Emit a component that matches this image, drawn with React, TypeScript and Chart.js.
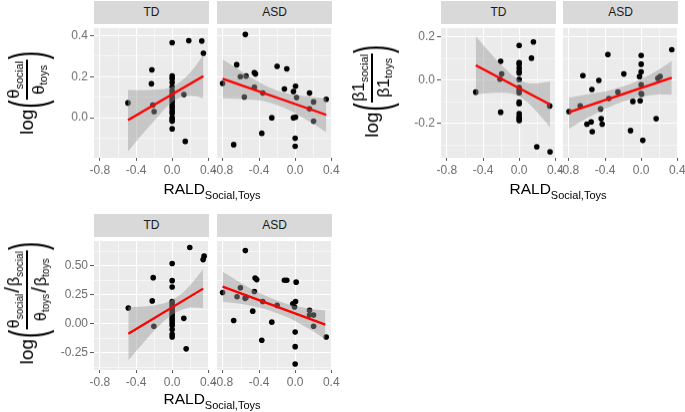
import React, { useEffect, useRef } from "react";
import { Chart, registerables } from "chart.js";
Chart.register(...registerables);

// ---------- axis definitions ----------
const xTickValues = [-0.8, -0.4, 0, 0.4];
const xTickLabels = ["-0.8", "-0.4", "0.0", "0.4"];
const xMinorValues = [-0.6, -0.2, 0.2];
const xRange = [-0.866, 0.408];

const thetaYTicks = [0, 0.2, 0.4];
const thetaYLabels = ["0.0", "0.2", "0.4"];
const thetaYMinor = [-0.1, 0.1, 0.3];
const thetaYRange = [-0.195, 0.436];

const beta1YTicks = [-0.2, 0, 0.2];
const beta1YLabels = ["-0.2", "0.0", "0.2"];
const beta1YMinor = [-0.3, -0.1, 0.1];
const beta1YRange = [-0.358, 0.242];

const ratioYTicks = [-0.25, 0, 0.25, 0.5];
const ratioYLabels = ["-0.25", "0.00", "0.25", "0.50"];
const ratioYMinor = [-0.375, -0.125, 0.125, 0.375, 0.625];
const ratioYRange = [-0.4, 0.716];

const facetLabels = ["TD", "ASD"];

// ---------- top-left: log(theta_social / theta_toys) ----------
const thetaTdX = [-0.49, -0.225, -0.23, -0.215, -0.2, 0, 0, 0, 0, 0, 0, 0, 0, 0, 0, 0, 0, 0, 0, 0, 0, 0, 0, 0.13, 0.145, 0.184, 0.328, 0.346];
const thetaTdY = [0.072, 0.233, 0.165, 0.062, 0.03, 0.365, 0.203, 0.19, 0.172, 0.15, 0.13, 0.115, 0.1, 0.088, 0.075, 0.06, 0.048, 0.033, 0.022, 0.0, -0.01, -0.017, -0.054, 0.113, -0.115, 0.375, 0.373, 0.314];
const thetaTdFitX = [-0.49, 0.346];
const thetaTdFitY = [-0.012, 0.202];
const thetaTdBandX = [-0.49, -0.35, -0.2, -0.05, 0.05, 0.15, 0.25, 0.346];
const thetaTdBandLo = [-0.165, -0.09, -0.015, 0.057, 0.09, 0.106, 0.105, 0.095];
const thetaTdBandHi = [0.135, 0.134, 0.137, 0.143, 0.162, 0.197, 0.247, 0.305];

const thetaAsdX = [-0.804, -0.681, -0.648, -0.607, -0.552, -0.544, -0.563, -0.452, -0.44, -0.452, -0.359, -0.37, -0.259, -0.2, -0.119, -0.093, -0.019, 0.004, 0.015, -0.019, 0.004, 0, 0, 0.159, 0.159, 0.204, 0.204, 0.344];
const thetaAsdY = [0.167, -0.131, 0.258, 0.2, 0.405, 0.203, 0.101, 0.219, 0.213, 0.148, 0.12, -0.076, 0.0, 0.25, 0.14, 0.238, 0.128, 0.153, 0.098, 0.0, 0.003, -0.1, -0.139, 0.12, 0.043, 0.077, -0.017, 0.09];
const thetaAsdFitX = [-0.804, 0.344];
const thetaAsdFitY = [0.19, 0.014];
const thetaAsdBandX = [-0.804, -0.65, -0.5, -0.35, -0.2, -0.05, 0.1, 0.2, 0.344];
const thetaAsdBandLo = [0.095, 0.092, 0.089, 0.081, 0.062, 0.034, -0.004, -0.029, -0.07];
const thetaAsdBandHi = [0.283, 0.242, 0.199, 0.161, 0.132, 0.114, 0.106, 0.101, 0.095];

// ---------- top-right: log(beta1_social / beta1_toys) ----------
const beta1TdX = [-0.481, -0.205, -0.194, -0.213, -0.205, 0, 0, 0, 0, 0, 0, 0, 0, 0, 0, 0, 0, 0, 0, 0, 0, 0.136, 0.158, 0.195, 0.342, 0.338];
const beta1TdY = [-0.054, 0.088, 0.03, 0.006, -0.147, 0.162, 0.082, 0.075, 0.057, 0.042, 0.034, 0.004, -0.033, -0.048, -0.058, -0.1, -0.108, -0.153, -0.168, -0.178, -0.186, 0.103, 0.178, -0.307, -0.33, -0.118];
const beta1TdFitX = [-0.481, 0.342];
const beta1TdFitY = [0.07, -0.111];
const beta1TdBandX = [-0.481, -0.35, -0.2, -0.05, 0.05, 0.15, 0.25, 0.342];
const beta1TdBandLo = [-0.065, -0.059, -0.057, -0.065, -0.087, -0.124, -0.171, -0.216];
const beta1TdBandHi = [0.205, 0.141, 0.073, 0.015, -0.007, -0.014, -0.011, -0.006];

const beta1AsdX = [-0.8, -0.675, -0.646, -0.601, -0.554, -0.542, -0.546, -0.469, -0.45, -0.443, -0.432, -0.369, -0.358, -0.258, -0.192, -0.118, -0.092, -0.018, -0.011, 0, 0, 0, 0, 0, 0.005, 0.018, 0.166, 0.185, 0.21, 0.339];
const beta1AsdY = [-0.144, -0.117, 0.022, -0.202, -0.192, -0.237, -0.042, 0.0, -0.132, -0.177, -0.202, 0.12, -0.084, -0.054, 0.03, -0.232, -0.097, 0.018, -0.094, 0.115, 0.075, 0.04, -0.02, -0.06, -0.064, -0.277, -0.177, 0.01, 0.018, 0.142];
const beta1AsdFitX = [-0.8, 0.339];
const beta1AsdFitY = [-0.147, 0.012];
const beta1AsdBandX = [-0.8, -0.65, -0.5, -0.35, -0.2, -0.05, 0.1, 0.2, 0.339];
const beta1AsdBandLo = [-0.224, -0.186, -0.152, -0.122, -0.098, -0.08, -0.069, -0.065, -0.066];
const beta1AsdBandHi = [-0.08, -0.068, -0.058, -0.046, -0.028, -0.004, 0.027, 0.051, 0.09];

// ---------- bottom-left: log((theta/beta)_social / (theta/beta)_toys) ----------
const ratioTdX = [-0.486, -0.21, -0.221, -0.203, 0, 0, 0, 0, 0, 0, 0, 0, 0, 0, 0, 0, 0, 0, 0, 0, 0, 0.195, 0.129, 0.155, 0.343, 0.354];
const ratioTdY = [0.137, 0.399, 0.198, -0.022, 0.521, 0.373, 0.318, 0.192, 0.173, 0.153, 0.131, 0.109, 0.089, 0.07, 0.047, 0.028, 0.006, -0.014, -0.05, -0.092, -0.114, 0.66, 0.047, -0.217, 0.555, 0.585];
const ratioTdFitX = [-0.486, 0.343];
const ratioTdFitY = [-0.086, 0.304];
const ratioTdBandX = [-0.486, -0.35, -0.2, -0.05, 0.05, 0.15, 0.25, 0.343];
const ratioTdBandLo = [-0.316, -0.192, -0.061, 0.049, 0.101, 0.133, 0.14, 0.134];
const ratioTdBandHi = [0.144, 0.148, 0.159, 0.189, 0.231, 0.293, 0.38, 0.474];

const ratioAsdX = [-0.804, -0.681, -0.607, -0.644, -0.552, -0.544, -0.555, -0.47, -0.452, -0.444, -0.426, -0.359, -0.37, -0.259, -0.2, -0.119, -0.093, -0.026, 0.004, -0.007, 0.011, 0, 0, 0, 0.159, 0.159, 0.204, 0.204, 0.344];
const ratioAsdY = [0.27, 0.028, 0.312, 0.234, 0.633, 0.228, 0.22, 0.109, 0.279, 0.396, 0.382, 0.192, -0.142, 0.014, 0.159, 0.376, 0.376, 0.173, 0.192, 0.145, 0.36, -0.072, -0.198, -0.348, 0.117, 0.075, 0.075, -0.022, -0.114];
const ratioAsdFitX = [-0.804, 0.334];
const ratioAsdFitY = [0.321, -0.008];
const ratioAsdBandX = [-0.804, -0.65, -0.5, -0.35, -0.2, -0.05, 0.1, 0.2, 0.334];
const ratioAsdBandLo = [0.19, 0.177, 0.158, 0.13, 0.091, 0.043, -0.021, -0.065, -0.134];
const ratioAsdBandHi = [0.45, 0.377, 0.308, 0.25, 0.201, 0.163, 0.139, 0.125, 0.116];

// ---------- rendering ----------
const FONT = "'Liberation Sans', Arial, Helvetica, sans-serif";
const TICK_COLOR = "#6e6e6e";

const bgPlugin = {
  id: "panelBg",
  beforeDraw(chart: any) {
    const { ctx, chartArea: a } = chart;
    ctx.save();
    ctx.fillStyle = "#EBEBEB";
    ctx.fillRect(a.left, a.top, a.right - a.left, a.bottom - a.top);
    ctx.restore();
  },
};

const has = (arr: number[], v: number) => arr.some((t) => Math.abs(t - v) < 1e-9);
const pts = (xs: number[], ys: number[]) => xs.map((x, i) => ({ x, y: ys[i] }));

type FacetProps = {
  left: number; top: number; width: number; height: number; showY: boolean; label: string;
  xs: number[]; ys: number[]; fitX: number[]; fitY: number[];
  bandX: number[]; bandLo: number[]; bandHi: number[];
  yTicks: number[]; yLabels: string[]; yMinor: number[]; yRange: number[];
};

const YW = 40;
const PAD = 16;
const XH = 24;
const STRIP = 23;

function Facet(p: FacetProps) {
  const ref = useRef<HTMLCanvasElement>(null);
  const yw = p.showY ? YW : 0;
  const cw = PAD + yw + p.width + PAD;
  const ch = p.height + XH;
  useEffect(() => {
    if (!ref.current) return;
    const chart = new Chart(ref.current, {
      type: "line",
      data: {
        datasets: [
          {
            data: pts(p.fitX, p.fitY), borderColor: "#FF0000", borderWidth: 2.3,
            pointRadius: 0, fill: false, order: 1,
          },
          {
            data: pts(p.bandX, p.bandHi), borderWidth: 0, borderColor: "rgba(0,0,0,0)",
            pointRadius: 0, fill: "+1", backgroundColor: "rgba(153,153,153,0.45)",
            cubicInterpolationMode: "monotone", order: 2,
          },
          {
            data: pts(p.bandX, p.bandLo), borderWidth: 0, borderColor: "rgba(0,0,0,0)",
            pointRadius: 0, fill: false, cubicInterpolationMode: "monotone", order: 2,
          },
          {
            data: pts(p.xs, p.ys), showLine: false, pointRadius: 2.8,
            pointBackgroundColor: "#000", pointBorderWidth: 0, order: 3,
          },
        ] as any,
      },
      options: {
        animation: false,
        responsive: false,
        events: [],
        layout: { padding: { left: PAD, right: PAD, top: 0, bottom: 0 } },
        plugins: { legend: { display: false }, tooltip: { enabled: false } },
        scales: {
          x: {
            type: "linear", min: xRange[0], max: xRange[1],
            afterBuildTicks: (s: any) => {
              s.ticks = [...xTickValues, ...xMinorValues].sort((a, b) => a - b).map((v) => ({ value: v }));
            },
            afterFit: (s: any) => { s.height = XH; s.paddingLeft = 0; s.paddingRight = 0; },
            ticks: {
              autoSkip: false, maxRotation: 0, padding: 2, color: TICK_COLOR,
              font: { family: FONT, size: 12 },
              callback: (v: any) => { const i = xTickValues.findIndex((t) => Math.abs(t - v) < 1e-9); return i >= 0 ? xTickLabels[i] : ""; },
            },
            grid: {
              color: "#FFFFFF",
              lineWidth: (c: any) => (c.tick && has(xTickValues, c.tick.value) ? 1.1 : 0.55),
              tickColor: (c: any) => (c.tick && has(xTickValues, c.tick.value) ? "#555" : "rgba(0,0,0,0)"),
              tickLength: 3, tickWidth: 1,
            },
            border: { display: false },
          },
          y: {
            type: "linear", min: p.yRange[0], max: p.yRange[1],
            afterBuildTicks: (s: any) => {
              s.ticks = [...p.yTicks, ...p.yMinor].sort((a, b) => a - b).map((v) => ({ value: v }));
            },
            afterFit: (s: any) => { s.width = yw; s.paddingTop = 0; s.paddingBottom = 0; },
            ticks: {
              display: p.showY, autoSkip: false, padding: 2, color: TICK_COLOR,
              font: { family: FONT, size: 12 },
              callback: (v: any) => { const i = p.yTicks.findIndex((t) => Math.abs(t - v) < 1e-9); return i >= 0 ? p.yLabels[i] : ""; },
            },
            grid: {
              color: "#FFFFFF",
              drawTicks: p.showY,
              lineWidth: (c: any) => (c.tick && has(p.yTicks, c.tick.value) ? 1.1 : 0.55),
              tickColor: (c: any) => (c.tick && has(p.yTicks, c.tick.value) ? "#555" : "rgba(0,0,0,0)"),
              tickLength: 4, tickWidth: 1,
            },
            border: { display: false },
          },
        },
      } as any,
      plugins: [bgPlugin],
    });
    return () => chart.destroy();
  }, []);
  return (
    <>
      <div
        style={{
          position: "absolute", left: p.left, top: p.top - STRIP, width: p.width, height: STRIP,
          background: "#D9D9D9", color: "#1A1A1A", fontFamily: FONT, fontSize: 12,
          lineHeight: STRIP + "px", textAlign: "center",
        }}
      >
        {p.label}
      </div>
      <canvas
        ref={ref}
        width={cw}
        height={ch}
        style={{ position: "absolute", left: p.left - yw - PAD, top: p.top, width: cw, height: ch }}
      />
    </>
  );
}

function XTitle({ cx, cy }: { cx: number; cy: number }) {
  return (
    <div
      style={{
        position: "absolute", left: cx, top: cy, transform: "translate(-50%,-50%)",
        whiteSpace: "nowrap", fontFamily: FONT, fontSize: 15.5, color: "#000",
      }}
    >
      RALD<span style={{ fontSize: 11, position: "relative", top: 5 }}>Social,Toys</span>
    </div>
  );
}

const sub = (t: string, size: number) => (
  <span style={{ fontSize: size, position: "relative", top: size * 0.35 }}>{t}</span>
);

function YTitle({ cx, cy, num, den }: { cx: number; cy: number; num: React.ReactNode; den: React.ReactNode }) {
  const paren = (ch: string) => (
    <span style={{ fontSize: 50, lineHeight: "50px", display: "inline-block", transform: "scaleX(0.5)", margin: "0 -4px", fontWeight: 300 }}>{ch}</span>
  );
  return (
    <div
      style={{
        position: "absolute", left: cx, top: cy, transform: "translate(-50%,-50%) rotate(-90deg)",
        display: "flex", alignItems: "center", whiteSpace: "nowrap", fontFamily: FONT, color: "#000",
      }}
    >
      <span style={{ fontSize: 19, marginRight: 1 }}>log</span>
      {paren("(")}
      <div style={{ display: "flex", flexDirection: "column", alignItems: "center" }}>
        <div style={{ lineHeight: "19px", padding: "0 1px" }}>{num}</div>
        <div style={{ alignSelf: "stretch", height: 1.2, background: "#000", margin: "1px 0" }} />
        <div style={{ lineHeight: "19px", padding: "0 1px" }}>{den}</div>
      </div>
      {paren(")")}
    </div>
  );
}

export default function App() {
  const top1 = 24;
  const h1 = 133.5;
  const top2 = 237;
  const h2 = 133;
  const w = 115;
  return (
    <div style={{ position: "fixed", left: 0, top: 0, width: 685, height: 412, background: "#fff", overflow: "hidden" }}>
      {/* top-left */}
      <Facet left={94} top={top1} width={w} height={h1} showY label={facetLabels[0]}
        xs={thetaTdX} ys={thetaTdY} fitX={thetaTdFitX} fitY={thetaTdFitY}
        bandX={thetaTdBandX} bandLo={thetaTdBandLo} bandHi={thetaTdBandHi}
        yTicks={thetaYTicks} yLabels={thetaYLabels} yMinor={thetaYMinor} yRange={thetaYRange} />
      <Facet left={217} top={top1} width={w} height={h1} showY={false} label={facetLabels[1]}
        xs={thetaAsdX} ys={thetaAsdY} fitX={thetaAsdFitX} fitY={thetaAsdFitY}
        bandX={thetaAsdBandX} bandLo={thetaAsdBandLo} bandHi={thetaAsdBandHi}
        yTicks={thetaYTicks} yLabels={thetaYLabels} yMinor={thetaYMinor} yRange={thetaYRange} />
      <XTitle cx={212} cy={189} />
      <YTitle cx={27} cy={93}
        num={<span style={{ fontSize: 17 }}>θ{sub("social", 11)}</span>}
        den={<span style={{ fontSize: 17 }}>θ{sub("toys", 11)}</span>} />

      {/* top-right */}
      <Facet left={441} top={top1} width={w} height={h1} showY label={facetLabels[0]}
        xs={beta1TdX} ys={beta1TdY} fitX={beta1TdFitX} fitY={beta1TdFitY}
        bandX={beta1TdBandX} bandLo={beta1TdBandLo} bandHi={beta1TdBandHi}
        yTicks={beta1YTicks} yLabels={beta1YLabels} yMinor={beta1YMinor} yRange={beta1YRange} />
      <Facet left={563} top={top1} width={w} height={h1} showY={false} label={facetLabels[1]}
        xs={beta1AsdX} ys={beta1AsdY} fitX={beta1AsdFitX} fitY={beta1AsdFitY}
        bandX={beta1AsdBandX} bandLo={beta1AsdBandLo} bandHi={beta1AsdBandHi}
        yTicks={beta1YTicks} yLabels={beta1YLabels} yMinor={beta1YMinor} yRange={beta1YRange} />
      <XTitle cx={558} cy={189} />
      <YTitle cx={372} cy={91}
        num={<span style={{ fontSize: 17 }}>β1{sub("social", 11)}</span>}
        den={<span style={{ fontSize: 17 }}>β1{sub("toys", 11)}</span>} />

      {/* bottom-left */}
      <Facet left={94} top={top2} width={w} height={h2} showY label={facetLabels[0]}
        xs={ratioTdX} ys={ratioTdY} fitX={ratioTdFitX} fitY={ratioTdFitY}
        bandX={ratioTdBandX} bandLo={ratioTdBandLo} bandHi={ratioTdBandHi}
        yTicks={ratioYTicks} yLabels={ratioYLabels} yMinor={ratioYMinor} yRange={ratioYRange} />
      <Facet left={217} top={top2} width={w} height={h2} showY={false} label={facetLabels[1]}
        xs={ratioAsdX} ys={ratioAsdY} fitX={ratioAsdFitX} fitY={ratioAsdFitY}
        bandX={ratioAsdBandX} bandLo={ratioAsdBandLo} bandHi={ratioAsdBandHi}
        yTicks={ratioYTicks} yLabels={ratioYLabels} yMinor={ratioYMinor} yRange={ratioYRange} />
      <XTitle cx={212} cy={399} />
      <YTitle cx={27} cy={303}
        num={<span style={{ fontSize: 16 }}>θ{sub("social", 10)}<span style={{ fontSize: 21, margin: "0 1px" }}>/</span>β{sub("social", 10)}</span>}
        den={<span style={{ fontSize: 16 }}>θ{sub("toys", 10)}<span style={{ fontSize: 21, margin: "0 1px" }}>/</span>β{sub("toys", 10)}</span>} />
    </div>
  );
}
